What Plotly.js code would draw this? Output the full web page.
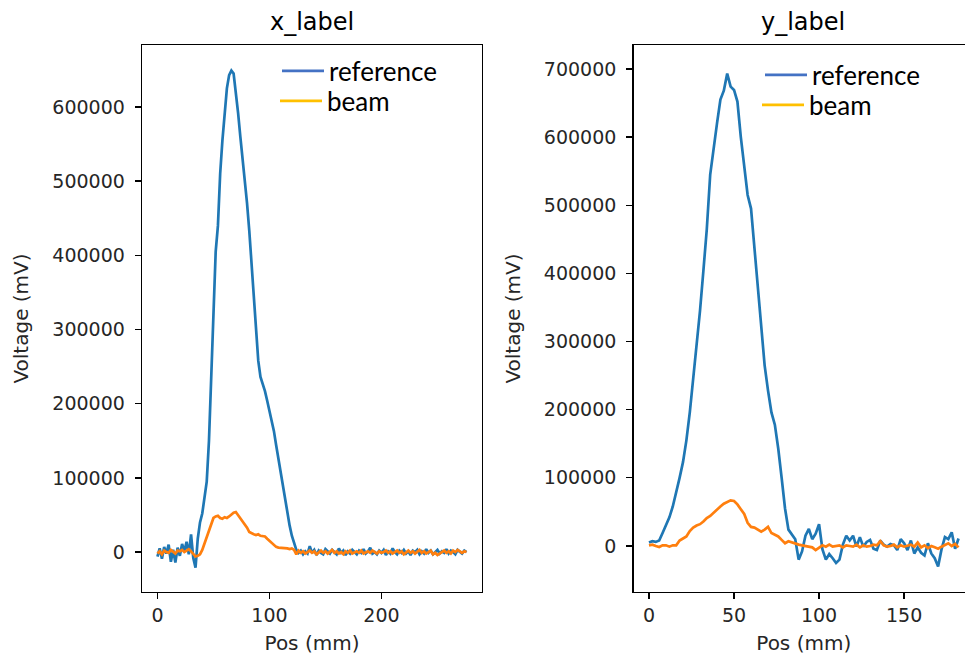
<!DOCTYPE html>
<html>
<head>
<meta charset="utf-8">
<script src="https://cdn.plot.ly/plotly-3.0.1.min.js"></script>
<style>
html,body{margin:0;padding:0;overflow:hidden;background:#fff;}
#chart{width:975px;height:655px;}
</style>
</head>
<body>
<div id="chart"></div>
<script>
// ---- data (x grid: start 0, step 2 mm) ----
const posStep = 2;
const xLabelReference = [
 -6000, 5000, -9000, 7000, -2000, 10000, -13000, 3000, -14000, 6000,
 -5000, 11000, 1000, 14000, -3000, 24000, -8000, -21000, 18000, 40000,
 52000, 72000, 95000, 150000, 235000, 340000, 405000, 440000, 510000, 555000,
 592000, 625000, 643000, 649000, 645000, 620000, 592000, 560000, 532000, 505000,
 470000, 433000, 390000, 345000, 300000, 258000, 236000, 227000, 217000, 204000,
 191000, 177000, 163000, 144000, 126000, 105000, 86000, 67000, 50000, 36000,
 22000, 11000, 3000, -1000, 2000, -3000, 1000, -2000, 8000, -1000,
 3000, -4000, 2000, -1000, -3000, 4000, 1000, -2000, 3000, 0,
 -3000, 5000, -1000, 2000, -4000, 1000, -2000, 3000, 0, -3000,
 2000, -1000, 4000, -2000, 1000, 6000, -2000, 0, -3000, 2000,
 -1000, 3000, -4000, 1000, -2000, 5000, 0, -3000, 2000, -1000,
 3000, -2000, 1000, -4000, 2000, 0, 3000, -3000, 1000, -2000,
 4000, -1000, 2000, -3000, 0, 3000, -2000, 1000, -1000, 4000,
 -2000, 2000, 0, -3000, 3000, 1000, -2000, 2000, 0
];
const xLabelBeam = [
 -2000, 1000, -3000, 2000, 0, -1000, 3000, 0, -2000, 2000,
 1000, 3000, 0, 2000, 4000, 1000, -3000, -6000, -5000, -3000,
 3000, 12000, 19000, 30000, 40000, 46000, 48000, 49000, 46000, 45000,
 47000, 46000, 48000, 51000, 53000, 54000, 50000, 46000, 41000, 37000,
 33000, 27000, 25000, 24000, 23000, 24000, 22000, 22000, 21000, 18000,
 15000, 12000, 9000, 7000, 6000, 6000, 5000, 6000, 5000, 4000,
 5000, 3000, -3000, 2000, -1000, 1000, -2000, 0, 2000, -1000,
 1000, -3000, 0, 2000, -1000, 1000, -2000, 0, 3000, -1000,
 1000, -2000, 0, -3000, 1000, -1000, 2000, -2000, 0, 1000,
 -1000, 2000, -2000, 0, 1000, -1000, 2000, 0, -2000, 1000,
 -1000, 0, 2000, -1000, 1000, -2000, 0, 2000, -1000, 1000,
 -3000, 0, 2000, -1000, 1000, -2000, 0, 3000, -1000, 1000,
 -2000, 0, 2000, -3000, -1000, -4000, -2000, 0, 2000, -1000,
 1000, -2000, 2000, 0, 3000, 1000, -1000, 1000, 0
];
const yLabelReference = [
 5000, 7000, 6000, 8000, 19000, 30000, 42000, 58000, 77000, 100000,
 123000, 155000, 196000, 245000, 290000, 345000, 404000, 465000, 545000, 585000,
 620000, 655000, 668000, 693000, 674000, 669000, 652000, 600000, 558000, 515000,
 495000, 440000, 385000, 330000, 265000, 228000, 196000, 178000, 143000, 100000,
 55000, 24000, 16000, 10000, -20000, -8000, 15000, 25000, 10000, 18000,
 32000, -5000, -20000, -12000, -18000, -25000, -20000, 2000, 15000, 8000,
 15000, -1000, 13000, -1000, 6000, 9000, -4000, -6000, 8000, 2000,
 -1000, 3000, 1000, -6000, 10000, 4000, -6000, 8000, -11000, -2000,
 -10000, -14000, 4000, -11000, -18000, -30000, -5000, 13000, 10000, 20000,
 -4000, 11000
];
const yLabelBeam = [
 1000, 2000, 0, -1500, 1000, 1000, -1000, 1000, 1000, 8000,
 11000, 14000, 22000, 27000, 30000, 32000, 36000, 41000, 44000, 49000,
 54000, 58000, 62000, 64000, 67000, 66000, 61000, 54000, 47000, 34000,
 28000, 27000, 24000, 21000, 24000, 28000, 19000, 17000, 14000, 9000,
 4000, 7000, 5000, 3000, 2000, 1000, 0, -1500, -2000, -6000,
 -3000, 1000, -1000, 2000, -1000, 0, 1000, -2000, 1000, 0,
 -1000, 2000, -2000, 1000, -1000, 0, 2000, 1000, 7000, 1000,
 -1000, 0, 2000, -2000, 1000, -1000, 0, 2000, -1000, 5000,
 -2000, 1000, -3000, 0, -2000, -4000, -1000, 2000, 4000, 0,
 3000, -2000
];
const seriesNames = ['reference', 'beam'];
const plotTitles = ['x_label', 'y_label'];
const xTickVals1 = [0, 100, 200];
const xTickVals2 = [0, 50, 100, 150];
const yTickVals1 = [0, 100000, 200000, 300000, 400000, 500000, 600000];
const yTickVals2 = [0, 100000, 200000, 300000, 400000, 500000, 600000, 700000];

// ---- styles ----
const mplBlue = '#1f77b4', mplOrange = '#ff7f0e';
const legBlue = '#4472C4', legGold = '#FFC000';
const W = 975, H = 655;
const tickFont = {family: 'DejaVu Sans', size: 19, color: '#262626'};
const labelFont = {family: 'DejaVu Sans', size: 20, color: '#262626'};
const lw = 2.7;

function line(y, color, xa, ya) {
  return {y: y, x0: 0, dx: posStep, type: 'scatter', mode: 'lines',
    line: {color: color, width: lw}, xaxis: xa, yaxis: ya, showlegend: false, hoverinfo: 'skip'};
}
function legItem(name, color, xa, ya, leg) {
  return {x: [null], y: [null], type: 'scatter', mode: 'lines', name: name,
    line: {color: color, width: 2.6}, xaxis: xa, yaxis: ya, legend: leg, showlegend: true};
}

const traces = [
  line(xLabelReference, mplBlue, 'x', 'y'),
  line(xLabelBeam, mplOrange, 'x', 'y'),
  line(yLabelReference, mplBlue, 'x2', 'y2'),
  line(yLabelBeam, mplOrange, 'x2', 'y2'),
  legItem(seriesNames[0], legBlue, 'x', 'y', 'legend'),
  legItem(seriesNames[1], legGold, 'x', 'y', 'legend2'),
  legItem(seriesNames[0], legBlue, 'x2', 'y2', 'legend3'),
  legItem(seriesNames[1], legGold, 'x2', 'y2', 'legend4')
];

function xAxis(dom, range, tv, anchor) {
  return {domain: dom, range: range, anchor: anchor, tickvals: tv, ticktext: tv.map(String),
    showgrid: false, zeroline: false, showline: true, mirror: true, linecolor: '#000', linewidth: 1.3,
    ticks: 'outside', ticklen: 6, tickwidth: 1.3, tickcolor: '#000', tickfont: tickFont,
    ticklabelstandoff: 0,
    title: {text: 'Pos (mm)', font: labelFont, standoff: 12}};
}
function yAxis(dom, range, tv, anchor) {
  return {domain: dom, range: range, anchor: anchor, tickvals: tv, ticktext: tv.map(String),
    showgrid: false, zeroline: false, showline: true, mirror: true, linecolor: '#000', linewidth: 1.3,
    ticks: 'outside', ticklen: 6, tickwidth: 1.3, tickcolor: '#000', tickfont: tickFont,
    ticklabelstandoff: 6,
    title: {text: 'Voltage (mV)', font: labelFont, standoff: 18}};
}
const yDom = [1 - 592 / H, 1 - 45 / H];
function legendAt(px, py) {
  return {x: px / W, y: 1 - py / H, xanchor: 'left', yanchor: 'middle',
    bgcolor: 'rgba(0,0,0,0)', font: {family: 'Lato', size: 26, color: '#000'},
    itemwidth: 42, borderwidth: 0};
}

const layout = {
  width: W, height: H,
  margin: {l: 0, r: 0, t: 0, b: 0},
  paper_bgcolor: '#fff', plot_bgcolor: '#fff',
  font: {family: 'DejaVu Sans', color: '#262626'},
  xaxis: xAxis([142 / W, 482 / W], [-13.8, 289.8], xTickVals1, 'y'),
  yaxis: yAxis(yDom, [-53800, 683500], yTickVals1, 'x'),
  xaxis2: xAxis([633.5 / W, 974 / W], [-9.1, 191.1], xTickVals2, 'y2'),
  yaxis2: yAxis(yDom, [-67500, 735000], yTickVals2, 'x2'),
  legend: legendAt(277, 71),
  legend2: legendAt(275, 101),
  legend3: legendAt(760, 75),
  legend4: legendAt(757, 105),
  annotations: [
    {text: plotTitles[0], xref: 'paper', yref: 'paper', x: 312 / W, y: 1 - 22 / H,
     xanchor: 'center', yanchor: 'middle', showarrow: false,
     font: {family: 'DejaVu Sans', size: 24, color: '#000'}},
    {text: plotTitles[1], xref: 'paper', yref: 'paper', x: 803 / W, y: 1 - 22 / H,
     xanchor: 'center', yanchor: 'middle', showarrow: false,
     font: {family: 'DejaVu Sans', size: 24, color: '#000'}}
  ]
};

Plotly.newPlot('chart', traces, layout, {staticPlot: true, displayModeBar: false});
</script>
</body>
</html>
